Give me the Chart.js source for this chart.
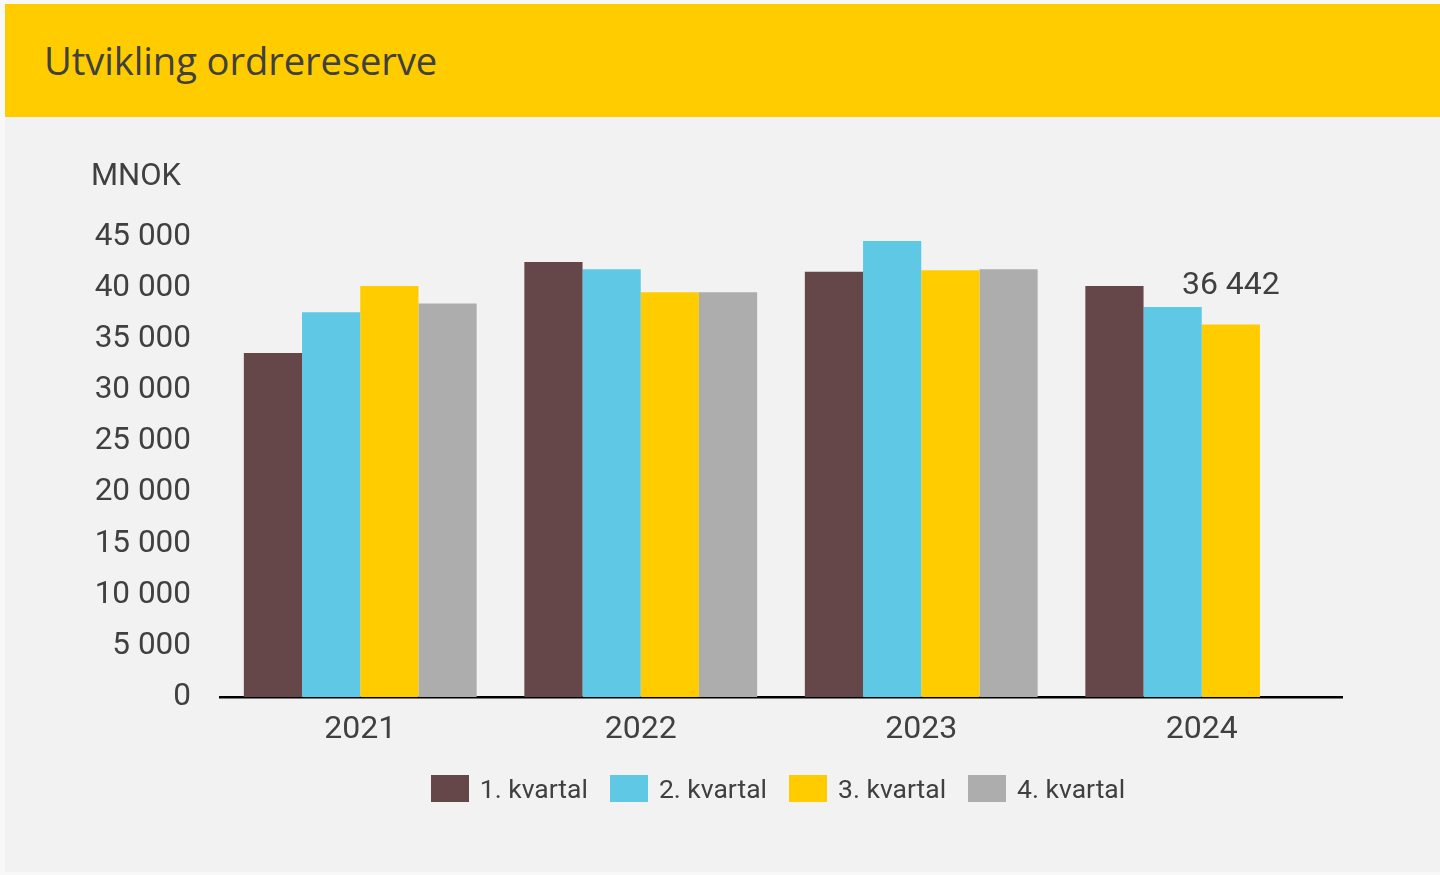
<!DOCTYPE html>
<html lang="no">
<head>
<meta charset="utf-8">
<title>Utvikling ordrereserve</title>
<script src="https://cdn.jsdelivr.net/npm/chart.js@4.4.1/dist/chart.umd.min.js"></script>
<style>
  html, body { margin: 0; padding: 0; background: #f8f8f8; }
  body { width: 1440px; height: 875px; position: relative; overflow: hidden; font-family: Roboto, sans-serif; }
  .head { position: absolute; left: 5px; top: 4px; width: 1435px; height: 113px; background: #ffcc00; }
  .head h1 { margin: 0; position: absolute; left: 39px; top: 30px; font: 400 38.2px "Open Sans", sans-serif; color: #404040; letter-spacing: -0.1px; }
  .panel { position: absolute; left: 5px; top: 117px; width: 1435px; height: 755px; background: #f2f2f2; }
  .panel canvas { position: absolute; left: 0; top: 0; }
  .legend { position: absolute; left: 212px; width: 1122px; top: 656px; display: flex; justify-content: center; gap: 22px; }
  .legend .li { display: flex; align-items: center; font-size: 26.5px; color: #404040; }
  .legend .sq { width: 38px; height: 27px; margin-right: 11px; }
</style>
</head>
<body>
<div class="head"><h1>Utvikling ordrereserve</h1></div>
<div class="panel">
  <canvas id="c" width="1435" height="755"></canvas>
  <div class="legend" id="legend"></div>
</div>
<script>
  // data (MNOK)
  var years = ['2021', '2022', '2023', '2024'];
  var quarters = ['1. kvartal', '2. kvartal', '3. kvartal', '4. kvartal'];
  var q1 = [33650, 42550, 41600, 40200];
  var q2 = [37650, 41850, 44600, 38150];
  var q3 = [40200, 39600, 41750, 36442];
  var q4 = [38500, 39600, 41850, null];
  var colors = ['#654749', '#5fc8e5', '#ffcc00', '#adadad'];
  var yTicks = [0, 5000, 10000, 15000, 20000, 25000, 30000, 35000, 40000, 45000];
  var INK = '#404040';
  var FONT = 'Roboto, sans-serif';

  function fmt(n) { return String(n).replace(/\B(?=(\d{3})+(?!\d))/g, ' '); }

  Chart.defaults.font.family = FONT;
  Chart.defaults.color = INK;

  var series = [q1, q2, q3, q4];
  var datasets = series.map(function (d, i) {
    return { label: quarters[i], data: d, backgroundColor: colors[i], borderWidth: 0,
             categoryPercentage: 0.83, barPercentage: 1 };
  });

  // MNOK title + label on the last value
  var extras = {
    id: 'extras',
    afterDraw: function (chart) {
      var ctx = chart.ctx;
      ctx.save();
      ctx.fillStyle = INK;
      ctx.font = '31px ' + FONT;
      ctx.textAlign = 'left';
      ctx.textBaseline = 'middle';
      ctx.fillText('MNOK', 86, 60);
      var bar = chart.getDatasetMeta(2).data[3];
      ctx.font = '32px ' + FONT;
      ctx.textAlign = 'center';
      ctx.textBaseline = 'alphabetic';
      ctx.fillText(fmt(q3[3]), bar.x, bar.y - 30);
      ctx.restore();
    }
  };

  new Chart(document.getElementById('c'), {
    type: 'bar',
    data: { labels: years, datasets: datasets },
    plugins: [extras],
    options: {
      responsive: false, animation: false,
      layout: { padding: { top: 120, right: 98, bottom: 115, left: 0 } },
      plugins: { legend: { display: false }, tooltip: { enabled: false } },
      scales: {
        y: {
          min: 0, max: 45000,
          afterBuildTicks: function (s) { s.ticks = yTicks.map(function (v) { return { value: v }; }); },
          afterFit: function (s) { s.width = 215; },
          grid: { display: false, drawTicks: false },
          border: { display: false },
          ticks: { padding: 29, font: { size: 31.5 }, color: INK, callback: function (v) { return fmt(v); } }
        },
        x: {
          afterFit: function (s) { s.height = 60; },
          grid: { display: false, drawTicks: false },
          border: { color: '#000', width: 2.5 },
          ticks: { padding: 14, font: { size: 32 }, color: INK }
        }
      }
    }
  });

  document.getElementById('legend').innerHTML = quarters.map(function (q, i) {
    return '<div class="li"><span class="sq" style="background:' + colors[i] + '"></span>' + q + '</div>';
  }).join('');
</script>
</body>
</html>
